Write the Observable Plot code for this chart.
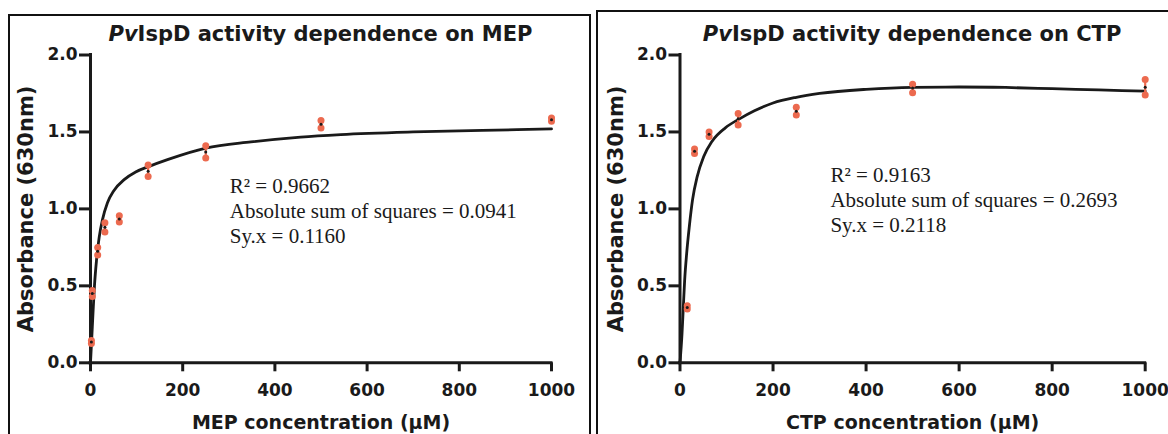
<!DOCTYPE html>
<html>
<head>
<meta charset="utf-8">
<script src="https://cdn.jsdelivr.net/npm/d3@7"></script>
<script src="https://cdn.jsdelivr.net/npm/@observablehq/plot@0.6"></script>
<style>
html, body { margin: 0; padding: 0; background: #fff; width: 1168px; height: 434px; overflow: hidden; position: relative; }
.panel { position: absolute; border: 2px solid #111; box-sizing: content-box; background: #fff; overflow: hidden; }
.panel svg { display: block; position: absolute; left: 0; top: 0; }
.title { position: absolute; white-space: nowrap; font-family: "DejaVu Sans", sans-serif; font-weight: bold;
         font-size: 21px; line-height: 21px; color: #1a1a1a; text-align: center; z-index: 2; }
</style>
</head>
<body>
<div id="left" class="panel" style="left:8px; top:14px; width:579px; height:430px;"></div>
<div id="right" class="panel" style="left:596px; top:10px; width:600px; height:434px;"></div>
<script>
// ---- shared ticks ----
const xTicks = [0, 200, 400, 600, 800, 1000];
const yTicks = [0, 0.5, 1.0, 1.5, 2.0];

// ---- MEP panel data (µM, absorbance 630 nm) ----
const mepConc = [1.95, 3.9, 15.6, 31.25, 62.5, 125, 250, 500, 1000];
const mepMean = [0.135, 0.45, 0.725, 0.88, 0.935, 1.245, 1.37, 1.55, 1.58];
const mepLow  = [0.125, 0.43, 0.70, 0.85, 0.915, 1.21, 1.33, 1.525, 1.57];
const mepHigh = [0.145, 0.47, 0.75, 0.91, 0.955, 1.285, 1.41, 1.575, 1.59];
const mepFitX = [0, 2.8, 5.7, 8.6, 13, 18.8, 26, 36.8, 51, 73, 98, 126, 167, 250, 348, 456, 543, 700, 850, 1000];
const mepFitY = [0, 0.165, 0.34, 0.5, 0.665, 0.815, 0.93, 1.04, 1.12, 1.19, 1.24, 1.275, 1.32, 1.395, 1.435, 1.467, 1.483, 1.50, 1.51, 1.52];
const mepStats = ["R\u00B2 = 0.9662", "Absolute sum of squares = 0.0941", "Sy.x = 0.1160"];

// ---- CTP panel data ----
const ctpConc = [15.6, 31.25, 62.5, 125, 250, 500, 1000];
const ctpMean = [0.36, 1.375, 1.485, 1.585, 1.635, 1.785, 1.79];
const ctpLow  = [0.35, 1.36, 1.47, 1.545, 1.61, 1.755, 1.74];
const ctpHigh = [0.37, 1.39, 1.50, 1.62, 1.66, 1.81, 1.84];
const ctpFitX = [0, 4.3, 7.1, 10, 14.3, 20, 27, 37, 51, 69, 97.5, 126, 160, 200, 250, 300, 400, 500, 600, 700, 800, 900, 1000];
const ctpFitY = [0, 0.187, 0.36, 0.536, 0.71, 0.885, 1.06, 1.21, 1.34, 1.44, 1.527, 1.582, 1.638, 1.688, 1.725, 1.75, 1.777, 1.79, 1.792, 1.789, 1.781, 1.773, 1.765];
const ctpStats = ["R\u00B2 = 0.9163", "Absolute sum of squares = 0.2693", "Sy.x = 0.2118"];

// ---- text ----
const titleLead = "Pv";
const mepTitleRest = "IspD activity dependence on MEP";
const ctpTitleRest = "IspD activity dependence on CTP";
const yLabel = "Absorbance (630nm)";
const mepXLabel = "MEP concentration (\u03BCM)";
const ctpXLabel = "CTP concentration (\u03BCM)";

const SANS = "'DejaVu Sans', sans-serif";
const SERIF = "'Liberation Serif', 'Times New Roman', serif";
const INK = "#1a1a1a";
const ORANGE = "#ec6a4f";

function panel(el, o) {
  const pts = o.conc.map((c, i) => ({c, m: o.mean[i], lo: o.low[i], hi: o.high[i]}));
  const fit = o.fitX.map((x, i) => ({x, y: o.fitY[i]}));
  const chart = Plot.plot({
    width: o.width, height: o.height,
    marginLeft: o.ml, marginRight: o.mr, marginTop: o.mt, marginBottom: o.mb,
    x: {domain: [0, 1000]},
    y: {domain: [0, 2]},
    style: {fontFamily: SANS, background: "transparent", overflow: "visible"},
    marks: [
      Plot.axisX({ticks: xTicks, tickFormat: d3.format("d"), tickSize: 9, tickPadding: 11.7, strokeWidth: 3,
                  fontSize: 17, fontWeight: "bold", color: INK, label: null}),
      Plot.axisY({ticks: yTicks, tickFormat: d3.format(".1f"), tickSize: 11, tickPadding: 2,
                  strokeWidth: 3, fontSize: 17, fontWeight: "bold", color: INK, label: null}),
      Plot.ruleX([0], {y1: 0, y2: 2, stroke: INK, strokeWidth: 3, strokeLinecap: "square"}),
      Plot.ruleY([0], {x1: 0, x2: 1000, stroke: INK, strokeWidth: 3, strokeLinecap: "square"}),
      Plot.line(fit, {x: "x", y: "y", curve: "monotone-x", stroke: INK, strokeWidth: 2.8}),
      Plot.ruleX(pts, {x: "c", y1: "lo", y2: "hi", stroke: ORANGE, strokeWidth: 2.2}),
      Plot.dot(pts, {x: "c", y: "lo", r: 3.5, fill: ORANGE}),
      Plot.dot(pts, {x: "c", y: "hi", r: 3.5, fill: ORANGE}),
      Plot.dot(pts, {x: "c", y: "m", r: 1.5, fill: INK}),
      Plot.text([o.stats.join("\n")], {x: () => o.annX, y: () => o.annY, text: d => d,
                 textAnchor: "start", lineAnchor: "bottom", lineHeight: 1.19,
                 fontSize: 21, fontFamily: SERIF, fill: INK}),
      Plot.text([yLabel], {frameAnchor: "left", dx: o.ylx, rotate: -90, text: d => d,
                 textAnchor: "middle", lineAnchor: "middle",
                 fontSize: 21, fontWeight: "bold", fill: INK}),
      Plot.text([o.xlabel], {frameAnchor: "bottom", dy: o.xly, lineAnchor: "bottom", textAnchor: "middle",
                 text: d => d, fontSize: 19, fontWeight: "bold", fill: INK})
    ]
  });
  el.appendChild(chart);
  const t = document.createElement("div");
  t.className = "title";
  t.style.left = o.ml + "px";
  t.style.width = (o.width - o.ml - o.mr) + "px";
  t.style.top = o.titleTop + "px";
  const it = document.createElement("i");
  it.textContent = titleLead;
  t.appendChild(it);
  t.appendChild(document.createTextNode(o.titleRest));
  el.appendChild(t);
}

panel(document.getElementById("left"), {
  conc: mepConc, mean: mepMean, low: mepLow, high: mepHigh, fitX: mepFitX, fitY: mepFitY,
  stats: mepStats, xlabel: mepXLabel, titleRest: mepTitleRest,
  width: 579, height: 418, ml: 80, mr: 38, mt: 38.5, mb: 71.7,
  annX: 302, annY: 0.777, ylx: -64, xly: 65.7, titleTop: 8
});

panel(document.getElementById("right"), {
  conc: ctpConc, mean: ctpMean, low: ctpLow, high: ctpHigh, fitX: ctpFitX, fitY: ctpFitY,
  stats: ctpStats, xlabel: ctpXLabel, titleRest: ctpTitleRest,
  width: 600, height: 422, ml: 81.5, mr: 53.3, mt: 42.5, mb: 71.7,
  annX: 323.4, annY: 0.849, ylx: -63.5, xly: 65.7, titleTop: 12
});
</script>
</body>
</html>
